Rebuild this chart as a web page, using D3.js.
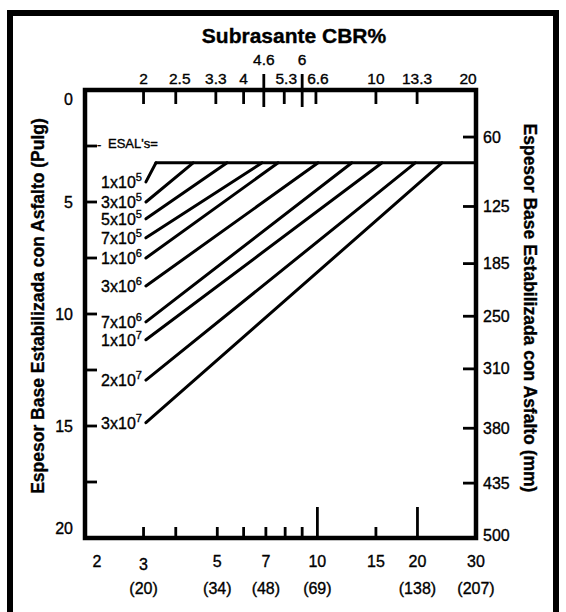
<!DOCTYPE html>
<html>
<head>
<meta charset="utf-8">
<script src="https://cdn.jsdelivr.net/npm/d3@7"></script>
<style>
  body { margin: 0; background: #fff; }
  svg text { font-family: "Liberation Sans", Arial, sans-serif; fill: #000; stroke: #000; stroke-width: 0.35px; }
</style>
</head>
<body>
<div id="chart"></div>
<script>
// ESAL curves: start at Mr = 3 ksi, end on the 3.25 in line
var esalMant = [1, 3, 5, 7, 1, 3, 7, 1, 2, 3];
var esalExp = [5, 5, 5, 5, 6, 6, 6, 7, 7, 7];
var startIn = [4.1, 5.0, 5.75, 6.6, 7.5, 8.75, 10.35, 11.15, 12.95, 14.85];
var endMr = [3.27, 4.23, 5.35, 6.82, 7.62, 10.05, 12.7, 15.65, 19.7, 23.7];
var startMr = 3.05;
var capIn = 3.25;

// bottom axis: Mr (ksi) with MPa in brackets
var mrTicks = [3, 3.75, 5, 6, 7, 8, 9, 10, 15, 20];
var mrTall = [10, 20];
var mrLabels = [2, 3, 5, 7, 10, 15, 20, 30];
var mpaAt = [3, 5, 7, 10, 20, 30];
var mpaLabels = ["(20)", "(34)", "(48)", "(69)", "(138)", "(207)"];

// top axis: CBR
var cbrTicks = [2, 2.5, 3.3, 4, 4.6, 5.3, 6, 6.6, 10, 13.3];
var cbrLong = [4.6, 6];
var cbrLow = [2, 2.5, 3.3, 4, 5.3, 6.6, 10, 13.3, 20];
var cbrHigh = [4.6, 6];

// left axis (in) and right axis (mm)
var inTicks = [2.5, 5, 7.5, 10, 12.5, 15, 17.5];
var inLabels = [0, 5, 10, 15, 20];
var mmAt = [2.1, 5.2, 7.75, 10.1, 12.45, 15.1, 17.55, 20];
var mmLabels = ["60", "125", "185", "250", "310", "380", "435", "500"];

var width = 566, height = 612;
var pL = 85, pR = 476, pT = 90, pB = 538;

var svg = d3.select("#chart").append("svg")
    .attr("width", width)
    .attr("height", height);

var x = d3.scaleLog().domain([2, 30]).range([pL, pR]);
var xc = d3.scaleLog().domain([2 / 1.5, 30 / 1.5]).range([pL, pR]);
var y = d3.scaleLinear().domain([0, 20]).range([pT, pB]);

// outer frame
svg.append("rect")
    .attr("x", 10).attr("y", 13)
    .attr("width", 546).attr("height", 640)
    .attr("fill", "none").attr("stroke", "#000").attr("stroke-width", 6);

// ticks
var ticks = svg.append("g").attr("stroke", "#000").attr("stroke-width", 2.8);

ticks.selectAll(".tb").data(mrTicks).enter().append("line")
    .attr("x1", function(d) { return x(d); })
    .attr("x2", function(d) { return x(d); })
    .attr("y1", pB)
    .attr("y2", function(d) { return mrTall.indexOf(d) >= 0 ? pB - 31 : pB - 11; });

ticks.selectAll(".tt").data(cbrTicks).enter().append("line")
    .attr("x1", function(d) { return xc(d); })
    .attr("x2", function(d) { return xc(d); })
    .attr("y1", function(d) { return cbrLong.indexOf(d) >= 0 ? pT - 16 : pT; })
    .attr("y2", function(d) { return cbrLong.indexOf(d) >= 0 ? pT + 17 : pT + 14; });

ticks.selectAll(".tl").data(inTicks).enter().append("line")
    .attr("x1", pL).attr("x2", pL + 12)
    .attr("y1", function(d) { return y(d); })
    .attr("y2", function(d) { return y(d); });

ticks.selectAll(".tr").data(mmAt.slice(0, 7)).enter().append("line")
    .attr("x1", pR).attr("x2", pR - 13)
    .attr("y1", function(d) { return y(d); })
    .attr("y2", function(d) { return y(d); });

// ESAL lines
var lines = svg.append("g").attr("stroke", "#000").attr("stroke-width", 3)
    .attr("fill", "none").attr("stroke-linecap", "round");

lines.selectAll(".esal").data(startIn).enter().append("line")
    .attr("x1", x(startMr))
    .attr("y1", function(d) { return y(d); })
    .attr("x2", function(d, i) { return x(endMr[i]); })
    .attr("y2", y(capIn));

lines.append("line")
    .attr("x1", x(endMr[0])).attr("x2", pR)
    .attr("y1", y(capIn)).attr("y2", y(capIn));

// plot frame
svg.append("rect")
    .attr("x", pL).attr("y", pT)
    .attr("width", pR - pL).attr("height", pB - pT)
    .attr("fill", "none").attr("stroke", "#000").attr("stroke-width", 4.5);

// ESAL labels
var lab = svg.selectAll(".esl").data(startIn).enter().append("text")
    .attr("x", x(startMr) - 4)
    .attr("y", function(d) { return y(d) + 6; })
    .attr("text-anchor", "end")
    .style("font-size", "16px");
lab.append("tspan").text(function(d, i) { return esalMant[i] + "x10"; });
lab.append("tspan").attr("dy", -7).style("font-size", "11px")
    .text(function(d, i) { return esalExp[i]; });

svg.append("text").attr("x", 97).attr("y", y(2.45) + 4)
    .style("font-size", "13px").text("-");
svg.append("text").attr("x", 108).attr("y", y(2.4) + 4.5)
    .style("font-size", "13px").text("ESAL's=");

// left labels
svg.selectAll(".ll").data(inLabels).enter().append("text")
    .attr("x", pL - 12)
    .attr("y", function(d) { return y(d) + (d === 0 ? 9 : d === 20 ? -10 : 0) + 5.5; })
    .attr("text-anchor", "end")
    .style("font-size", "16px")
    .text(function(d) { return d; });

// right labels
svg.selectAll(".rl").data(mmAt).enter().append("text")
    .attr("x", pR + 7)
    .attr("y", function(d) { return y(d) + (d === 20 ? -3 : 0) + 5.5; })
    .style("font-size", "16px")
    .text(function(d, i) { return mmLabels[i]; });

// bottom labels
svg.selectAll(".bl").data(mrLabels).enter().append("text")
    .attr("x", function(d) { return x(d) + (d === 2 ? 12 : 0); })
    .attr("y", function(d) { return d === 3 ? 570 : 567; })
    .attr("text-anchor", "middle")
    .style("font-size", "16px")
    .text(function(d) { return d; });

svg.selectAll(".ml").data(mpaAt).enter().append("text")
    .attr("x", function(d) { return x(d); })
    .attr("y", 594)
    .attr("text-anchor", "middle")
    .style("font-size", "16px")
    .text(function(d, i) { return mpaLabels[i]; });

// top labels
svg.selectAll(".cl").data(cbrLow).enter().append("text")
    .attr("x", function(d) { return d === 20 ? xc(d) - 8 : xc(d) + (d === 5.3 || d === 6.6 ? 2 : d === 2.5 ? 4 : 0); })
    .attr("y", 84)
    .attr("text-anchor", "middle")
    .style("font-size", "15.5px")
    .text(function(d) { return d; });

svg.selectAll(".ch").data(cbrHigh).enter().append("text")
    .attr("x", function(d) { return xc(d); })
    .attr("y", 65)
    .attr("text-anchor", "middle")
    .style("font-size", "15.5px")
    .text(function(d) { return d; });

// titles
svg.append("text")
    .attr("x", 294).attr("y", 43)
    .attr("text-anchor", "middle")
    .style("font-size", "21px").style("font-weight", "bold")
    .text("Subrasante CBR%");

svg.append("text")
    .attr("transform", "translate(44,306) rotate(-90)")
    .attr("text-anchor", "middle")
    .style("font-size", "17.5px").style("font-weight", "bold")
    .text("Espesor Base Estabilizada con Asfalto (Pulg)");

svg.append("text")
    .attr("transform", "translate(524,308) rotate(90)")
    .attr("text-anchor", "middle")
    .style("font-size", "17.5px").style("font-weight", "bold")
    .text("Espesor Base Estabilizada con Asfalto (mm)");
</script>
</body>
</html>
